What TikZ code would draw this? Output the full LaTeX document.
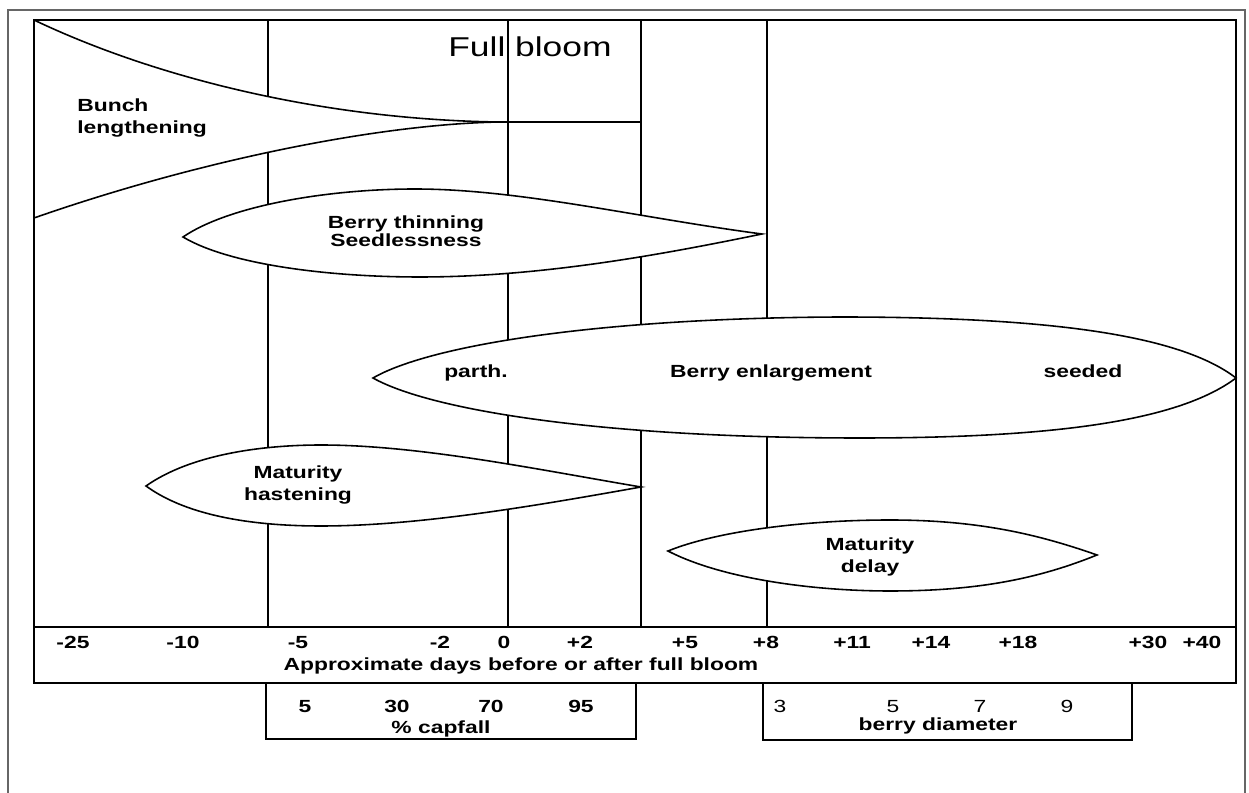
\documentclass[tikz,border=0pt]{standalone}
\usepackage{fontspec}
\setmainfont[FakeStretch=1.3]{Liberation Sans}

\begin{document}
\begin{tikzpicture}[x=0.02cm,y=-0.02cm,
  frame/.style={line width=1.5pt},
  dayline/.style={line width=1.4pt},
  lens/.style={line width=0.9pt},
  lbl/.style={font=\bfseries\fontsize{10}{12.5}\selectfont,align=center,inner sep=0pt},
  tick/.style={font=\bfseries\fontsize{10}{12}\selectfont,inner sep=0pt,anchor=base}]
\useasboundingbox (0,0) rectangle (1249,793);

% outer border
\draw[line width=0.7pt,black!60] (8,793) -- (8,10) -- (1245,10) -- (1245,793);

% day lines
\foreach \x in {268,508,641,767}
  \draw[dayline] (\x,20) -- (\x,627);

% bunch lengthening
\fill[white] (34,20) .. controls (160,80) and (330,120) .. (500,122)
  .. controls (380,124) and (200,160) .. (34,218) -- cycle;
\draw[lens] (34,20) .. controls (160,80) and (330,120) .. (500,122) -- (641,122);
\draw[lens] (34,218) .. controls (200,160) and (380,124) .. (500,122);

% berry thinning
\draw[lens,fill=white] (183,237) .. controls (230,205) and (330,189) .. (415,189)
  .. controls (520,189) and (640,218) .. (762,234)
  .. controls (660,255) and (540,277) .. (420,277)
  .. controls (330,277) and (230,265) .. (183,237) -- cycle;

% berry enlargement
\draw[lens,fill=white] (373,378) .. controls (430,345) and (600,318) .. (840,317)
  .. controls (1050,317) and (1180,335) .. (1236,378)
  .. controls (1180,420) and (1060,438) .. (860,438)
  .. controls (600,438) and (430,410) .. (373,378) -- cycle;

% maturity hastening
\draw[lens,fill=white] (146,486) .. controls (190,455) and (260,445) .. (321,445)
  .. controls (420,445) and (540,470) .. (641,487)
  .. controls (540,505) and (420,526) .. (321,526)
  .. controls (260,526) and (190,518) .. (146,486) -- cycle;

% maturity delay
\draw[lens,fill=white] (668,551) .. controls (720,530) and (810,520) .. (890,520)
  .. controls (980,520) and (1040,535) .. (1097,555)
  .. controls (1040,578) and (980,591) .. (890,591)
  .. controls (810,591) and (720,578) .. (668,551) -- cycle;

% frame and scales
\draw[frame] (34,20) rectangle (1236,683);
\draw[frame] (34,627) -- (1236,627);
\draw[frame] (266,683) -- (266,739) -- (636,739) -- (636,683);
\draw[frame] (763,683) -- (763,740) -- (1132,740) -- (1132,683);

% labels
\node[inner sep=0pt,anchor=base,font=\fontsize{15.5}{17}\selectfont] (bloom) at (530,57) {Full bloom};
\node[lbl,align=left,anchor=west] (bunch) at (77,118) {Bunch\\lengthening};
\node[lbl,font=\bfseries\fontsize{10}{10.4}\selectfont] (thin) at (406,231) {Berry thinning\\Seedlessness};
\node[tick] (parth) at (476,378) {parth.};
\node[tick] (enlarge) at (771,378) {Berry enlargement};
\node[tick] (seeded) at (1083,378) {seeded};
\node[lbl] (hasten) at (298,485) {Maturity\\hastening};
\node[lbl] (delay) at (870,557) {Maturity\\delay};

% day scale
\foreach \x/\t [count=\i] in {73/-25,183/-10,298/-5,440/-2,504/0,580/+2,685/+5,766/+8,852/+11,931/+14,1018/+18,1148/+30,1202/+40}
  \node[tick] (day\i) at (\x,649) {\t};
\node[tick] (days) at (521,671) {Approximate days before or after full bloom};

% capfall scale
\foreach \x/\t [count=\i] in {305/5,397/30,491/70,581/95}
  \node[tick] (cap\i) at (\x,713) {\t};
\node[tick] (capfall) at (441,734) {\% capfall};

% berry diameter scale
\foreach \x/\t [count=\i] in {780/3,893/5,980/7,1067/9}
  \node[tick,font=\fontsize{10}{12}\selectfont] (diam\i) at (\x,713) {\t};
\node[tick] (diameter) at (938,731) {berry diameter};
\end{tikzpicture}
\end{document}
